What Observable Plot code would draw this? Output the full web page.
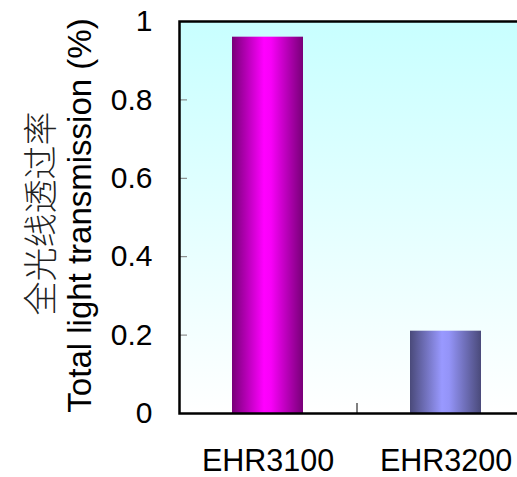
<!DOCTYPE html>
<html><head><meta charset="utf-8">
<script src="https://cdn.jsdelivr.net/npm/d3@7"></script>
<script src="https://cdn.jsdelivr.net/npm/@observablehq/plot@0.6"></script>
<style>
html,body{margin:0;padding:0;overflow:hidden;background:#fff;}
#chart{width:517px;height:477px;overflow:hidden;}
#chart svg{display:block;max-width:none !important;width:540px;height:477px;}
</style></head><body><div id="chart"></div>
<script>
const categories = ["EHR3100", "EHR3200"];
const values = [0.96, 0.21];
const yTicks = [0, 0.2, 0.4, 0.6, 0.8, 1];
const yTickLabels = ["0", "0.2", "0.4", "0.6", "0.8", "1"];
const yTitleZh = "全光线透过率";
const yTitleEn = "Total light transmission (%)";

const barFills = ["url(#gradMagenta)", "url(#gradBlue)"];
const data = categories.map((c, i) => ({category: c, value: values[i], fill: barFills[i]}));

const sans = "'Liberation Sans', Arial, Helvetica, sans-serif";

const plot = Plot.plot({
  width: 540, height: 477,
  marginLeft: 179, marginRight: 5, marginTop: 21, marginBottom: 64,
  style: {fontFamily: sans, background: "white", maxWidth: "none"},
  x: {domain: categories, paddingInner: 0.6, paddingOuter: 0.3, label: null},
  y: {domain: [0, 1], label: null},
  color: {type: "identity"},
  marks: [
    Plot.frame({fill: "url(#gradBg)", stroke: null}),
    Plot.barY(data, {x: "category", y: "value", fill: "fill"}),
    Plot.axisY({ticks: yTicks.slice(1, -1), tickSize: 8, dx: 8, text: null, stroke: "#777"}),
    Plot.axisY({ticks: yTicks, tickSize: 0, tickPadding: 27, tickFormat: d => yTickLabels[yTicks.indexOf(d)], fontSize: 30, fill: "black"}),
    Plot.axisX({ticks: [categories[0]], tickSize: 10, dy: -10, dx: 89, text: null, stroke: "black"}),
    Plot.axisX({tickSize: 0, tickPadding: 36, fontSize: 30.5, fill: "black"}),
    Plot.frame({stroke: "black", strokeWidth: 2.5}),
    Plot.text([yTitleEn], {text: d => d, frameAnchor: "left", textAnchor: "middle", rotate: -90, lineAnchor: "bottom", dx: -89, dy: -2, fontSize: 33, fill: "black", fontFamily: sans}),
    Plot.text([yTitleZh], {text: d => d, frameAnchor: "left", textAnchor: "middle", rotate: -90, lineAnchor: "bottom", dx: -127, dy: -4, fontSize: 34, fill: "#222", fontFamily: "'Noto Sans CJK SC', sans-serif", fontWeight: 300})
  ]
});

const svg = d3.select(plot);
const defs = svg.insert("defs", ":first-child");
function gradient(id, stops, vertical) {
  const g = defs.append("linearGradient").attr("id", id)
    .attr("x1", 0).attr("y1", 0).attr("x2", vertical ? 0 : 1).attr("y2", vertical ? 1 : 0);
  stops.forEach(([o, c]) => g.append("stop").attr("offset", o).attr("stop-color", c));
}
gradient("gradMagenta", [[0, "#780078"], [0.45, "#ff00ff"], [0.55, "#f800f8"], [1, "#780078"]]);
gradient("gradBlue", [[0, "#4a4a7a"], [0.45, "#9999ff"], [0.55, "#9494f8"], [1, "#4a4a7a"]]);
gradient("gradBg", [[0, "#c8ffff"], [1, "#ffffff"]], true);

document.getElementById("chart").appendChild(plot);
</script></body></html>
